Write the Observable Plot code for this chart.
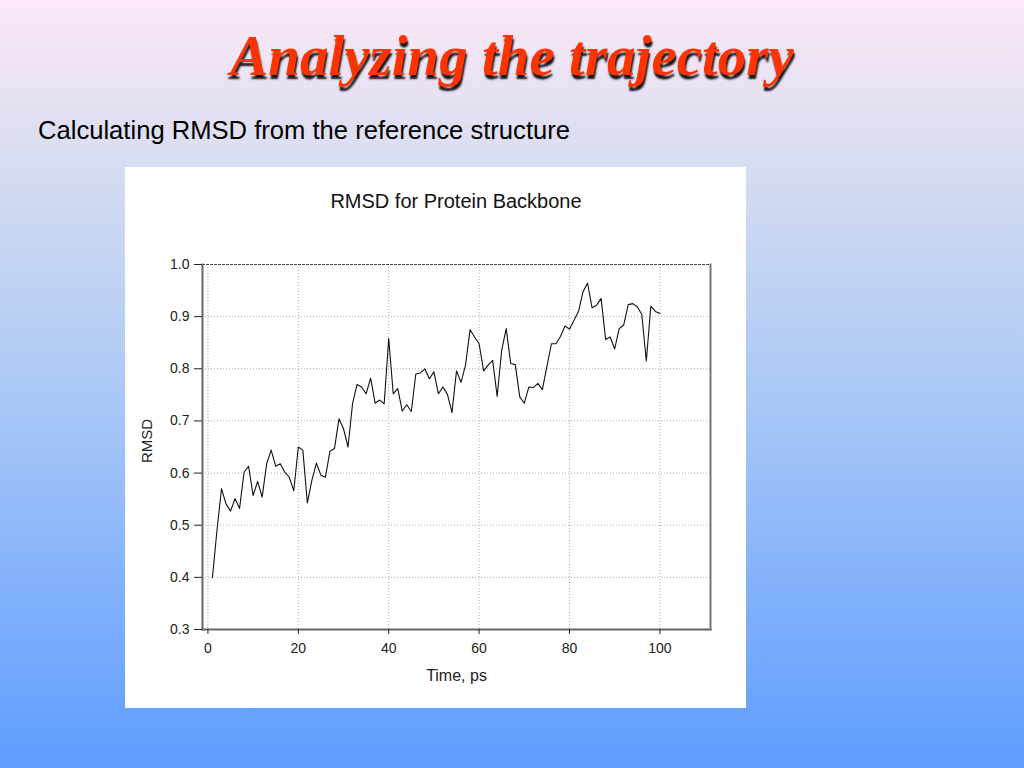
<!DOCTYPE html>
<html>
<head>
<meta charset="utf-8">
<script src="https://cdn.jsdelivr.net/npm/d3@7"></script>
<script src="https://cdn.jsdelivr.net/npm/@observablehq/plot@0.6"></script>
<style>
  html, body { margin: 0; padding: 0; }
  body {
    width: 1024px; height: 768px; overflow: hidden; position: relative;
    background: linear-gradient(to bottom, #fde8f6 0%, #d8ddf1 21%, #a9c8f6 52%, #5e9cff 100%);
    font-family: "Liberation Sans", Arial, sans-serif;
  }
  #title {
    position: absolute; left: 0; top: 27px; width: 1024px; text-align: center;
    font-family: "Liberation Serif", "Times New Roman", serif;
    font-weight: bold; font-style: italic; font-size: 57px; line-height: 57px;
    color: #ff3300; text-shadow: 1px 4px 2px rgba(0,0,0,0.9);
  }
  #subtitle {
    position: absolute; left: 38px; top: 117px; font-size: 25.6px; line-height: 26px; color: #000;
  }
  #box {
    position: absolute; left: 125px; top: 167px; width: 621px; height: 541px; background: #fff;
  }
  #charttitle {
    position: absolute; left: 77px; width: 508px; top: 23px; text-align: center;
    font-size: 20px; line-height: 22px; color: #111;
  }
  #chart { position: absolute; left: 0; top: 60px; }
</style>
</head>
<body>
<div id="title">Analyzing the trajectory</div>
<div id="subtitle">Calculating RMSD from the reference structure</div>
<div id="box">
  <div id="charttitle">RMSD for Protein Backbone</div>
  <div id="chart"></div>
</div>
<script>
const time = [1,2,3,4,5,6,7,8,9,10,11,12,13,14,15,16,17,18,19,20,
  21,22,23,24,25,26,27,28,29,30,31,32,33,34,35,36,37,38,39,40,
  41,42,43,44,45,46,47,48,49,50,51,52,53,54,55,56,57,58,59,60,
  61,62,63,64,65,66,67,68,69,70,71,72,73,74,75,76,77,78,79,80,
  81,82,83,84,85,86,87,88,89,90,91,92,93,94,95,96,97,98,99,100];
const rmsd = [0.400,0.490,0.570,0.541,0.527,0.551,0.532,0.602,0.613,0.557,
  0.584,0.554,0.618,0.644,0.613,0.618,0.602,0.592,0.566,0.650,
  0.644,0.543,0.586,0.619,0.596,0.592,0.642,0.647,0.704,0.685,
  0.650,0.733,0.770,0.765,0.752,0.782,0.734,0.740,0.733,0.858,
  0.752,0.762,0.719,0.731,0.718,0.790,0.792,0.800,0.781,0.794,
  0.752,0.765,0.751,0.716,0.796,0.774,0.807,0.875,0.861,0.848,
  0.796,0.807,0.816,0.747,0.836,0.877,0.810,0.808,0.746,0.734,
  0.765,0.764,0.772,0.760,0.804,0.848,0.848,0.862,0.882,0.876,
  0.893,0.910,0.948,0.964,0.917,0.922,0.935,0.856,0.861,0.838,
  0.877,0.884,0.923,0.925,0.919,0.904,0.815,0.920,0.910,0.906];
const xTicks = [0, 20, 40, 60, 80, 100];
const yTicks = [0.3, 0.4, 0.5, 0.6, 0.7, 0.8, 0.9, 1.0];
const yGrid = [0.4, 0.5, 0.6, 0.7, 0.8, 0.9];
const yTop = [1.0];
const xDomain = [-1.2, 111.2];
const yDomain = [0.3, 1.0];
const xLabel = ["Time, ps"];
const yLabel = ["RMSD"];

const data = time.map((t, i) => ({t, v: rmsd[i]}));

const plot = Plot.plot({
  width: 621,
  height: 481,
  marginTop: 37,
  marginBottom: 79,
  marginLeft: 77,
  marginRight: 36,
  style: {background: "#fff", fontFamily: "Liberation Sans, Arial, sans-serif", fontSize: "14px", color: "#222"},
  x: {domain: xDomain},
  y: {domain: yDomain},
  marks: [
    Plot.gridX(xTicks, {stroke: "#aaa", strokeOpacity: 1, strokeDasharray: "1,2"}),
    Plot.gridY(yGrid, {stroke: "#aaa", strokeOpacity: 1, strokeDasharray: "1,2"}),
    Plot.ruleY(yTop, {stroke: "#444", strokeDasharray: "3,1"}),
    Plot.frame({anchor: "left", stroke: "#666", strokeWidth: 2}),
    Plot.frame({anchor: "bottom", stroke: "#666", strokeWidth: 2}),
    Plot.frame({anchor: "right", stroke: "#777", strokeWidth: 2}),
    Plot.axisX({ticks: xTicks, tickSize: 5, tickPadding: 9, label: null, tickFormat: d3.format("d")}),
    Plot.axisY({ticks: yTicks, tickSize: 8, tickPadding: 5, label: null, tickFormat: d3.format(".1f")}),
    Plot.line(data, {x: "t", y: "v", stroke: "#111", strokeWidth: 1.1}),
    Plot.text(xLabel, {frameAnchor: "bottom", dy: 51, fontSize: 16, fill: "#222"}),
    Plot.text(yLabel, {frameAnchor: "left", dx: -55, dy: 16, rotate: -90, fontSize: 15, fill: "#222"})
  ]
});
document.getElementById("chart").appendChild(plot);
</script>
</body>
</html>
